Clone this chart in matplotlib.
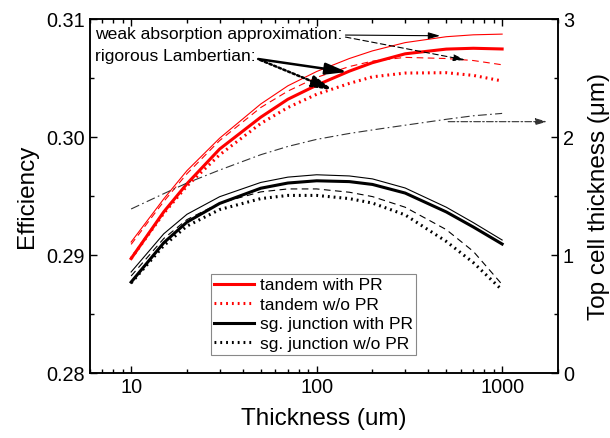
import numpy as np
import matplotlib
matplotlib.use('Agg')
import matplotlib.pyplot as plt
from matplotlib.ticker import FixedLocator, NullFormatter, FormatStrFormatter

plt.rcParams['font.family'] = ['Liberation Sans', 'DejaVu Sans']

# Thickness (um)
thick = [10, 15, 20, 30, 50, 70, 100, 150, 200, 300, 500, 700, 1000]

# tandem, rigorous Lambertian
tan_pr     = [0.2897, 0.29366, 0.29604, 0.29898, 0.30168, 0.30320, 0.30439, 0.30558, 0.30630, 0.30705, 0.30745, 0.30752, 0.30746]
tan_nopr   = [0.2897, 0.29354, 0.29585, 0.29849, 0.30115, 0.30250, 0.30362, 0.30454, 0.30510, 0.30542, 0.30545, 0.30522, 0.30475]
# tandem, weak absorption approximation
tan_pr_w   = [0.2911, 0.29476, 0.29715, 0.29990, 0.30280, 0.30434, 0.30555, 0.30665, 0.30730, 0.30800, 0.30850, 0.30866, 0.30872]
tan_nopr_w = [0.2909, 0.29454, 0.29689, 0.29970, 0.30250, 0.30389, 0.30505, 0.30597, 0.30643, 0.30675, 0.30665, 0.30648, 0.30612]
# single junction, rigorous Lambertian
sg_pr      = [0.2877, 0.29104, 0.29279, 0.29437, 0.29566, 0.29610, 0.29629, 0.29622, 0.29598, 0.29525, 0.29365, 0.29237, 0.29093]
sg_nopr    = [0.28763, 0.29080, 0.29245, 0.29385, 0.29478, 0.29505, 0.29505, 0.29478, 0.29440, 0.29340, 0.29115, 0.28935, 0.28703]
# single junction, weak absorption approximation
sg_pr_w    = [0.28856, 0.29180, 0.29345, 0.29494, 0.29615, 0.29660, 0.29680, 0.29670, 0.29645, 0.29568, 0.29405, 0.29274, 0.29127]
sg_nopr_w  = [0.28822, 0.29140, 0.29300, 0.29440, 0.29535, 0.29560, 0.29560, 0.29532, 0.29495, 0.29405, 0.29215, 0.29030, 0.28750]
# optimal top cell thickness (um), right axis
top_cell   = [1.39, 1.52, 1.61, 1.72, 1.85, 1.92, 1.98, 2.03, 2.06, 2.10, 2.15, 2.18, 2.20]

red = '#ff0000'
dot = (0, (0.6, 1.3))
dash = (0, (6, 4))

dpi = 100
fig = plt.figure(figsize=(610/dpi, 438/dpi), dpi=dpi)
ax = fig.add_axes([0.1475, 0.1484, 0.7672, 0.8082])
ax2 = ax.twinx()

ax.plot(thick, tan_pr_w, color=red, lw=0.8)
ax.plot(thick, tan_nopr_w, color=red, lw=0.8, ls=dash)
ax.plot(thick, sg_pr_w, color='black', lw=0.8)
ax.plot(thick, sg_nopr_w, color='black', lw=0.8, ls=dash)
l1, = ax.plot(thick, tan_pr, color=red, lw=2.2)
l2, = ax.plot(thick, tan_nopr, color=red, lw=2.2, ls=dot)
l3, = ax.plot(thick, sg_pr, color='black', lw=2.2)
l4, = ax.plot(thick, sg_nopr, color='black', lw=2.2, ls=dot)

ax2.plot(thick, top_cell, color='#333333', lw=0.8, ls=(0, (8, 3, 1.5, 3)))

ax.set_xscale('log')
ax.set_xlim(6, 2000)
ax.set_ylim(0.28, 0.31)
ax2.set_ylim(0, 3)

ax.set_yticks([0.28, 0.29, 0.30, 0.31])
ax.yaxis.set_minor_locator(FixedLocator([0.285, 0.295, 0.305]))
ax.yaxis.set_major_formatter(FormatStrFormatter('%.2f'))
ax2.set_yticks([0, 1, 2, 3])
ax2.yaxis.set_minor_locator(FixedLocator([0.5, 1.5, 2.5]))
ax.set_xticks([10, 100, 1000])
ax.set_xticklabels(['10', '100', '1000'])
ax.xaxis.set_minor_formatter(NullFormatter())

for a in (ax, ax2):
    for s in a.spines.values():
        s.set_linewidth(1.1)
    a.tick_params(which='both', direction='in', labelsize=14.3, width=1.0)
    a.tick_params(which='major', length=5)
    a.tick_params(which='minor', length=3)
ax.tick_params(which='both', top=True)

ax.set_xlabel('Thickness (um)', fontsize=17.5, labelpad=8)
ax.set_ylabel('Efficiency', fontsize=17.5, labelpad=6)
ax2.set_ylabel('Top cell thickness (\u03bcm)', fontsize=17.5, labelpad=10)

# annotations
ax.text(0.011, 0.955, 'weak absorption approximation:', transform=ax.transAxes,
        fontsize=12.6, va='center', ha='left')
ax.text(0.011, 0.893, 'rigorous Lambertian:', transform=ax.transAxes,
        fontsize=12.6, va='center', ha='left')

thin_head = '-|>,head_length=0.7,head_width=0.2'
thick_head = '-|>,head_length=1.3,head_width=0.35'
ax.annotate('', xy=(463, 0.30858), xytext=(143, 0.30864),
            arrowprops=dict(arrowstyle=thin_head, color='black', lw=0.8,
                            shrinkA=0, shrinkB=0, mutation_scale=10))
ax.annotate('', xy=(631, 0.30653), xytext=(143, 0.30847),
            arrowprops=dict(arrowstyle=thin_head, color='black', lw=0.8, ls=(0, (5, 3)),
                            shrinkA=0, shrinkB=0, mutation_scale=10))
ax.annotate('', xy=(146, 0.30551), xytext=(48.4, 0.30661),
            arrowprops=dict(arrowstyle=thick_head, color='black', lw=1.8,
                            shrinkA=0, shrinkB=0, mutation_scale=10))
ax.annotate('', xy=(122.7, 0.30398), xytext=(49.6, 0.30653),
            arrowprops=dict(arrowstyle=thick_head, color='black', lw=1.8, ls=(0, (1, 1)),
                            shrinkA=0, shrinkB=0, mutation_scale=10))
ax2.annotate('', xy=(1750, 2.13), xytext=(512, 2.13),
             arrowprops=dict(arrowstyle=thin_head, color='#333333', lw=0.8,
                             ls=(0, (6, 2, 1.5, 2)),
                             shrinkA=0, shrinkB=0, mutation_scale=10))

leg = ax.legend([l1, l2, l3, l4],
                ['tandem with PR', 'tandem w/o PR', 'sg. junction with PR', 'sg. junction w/o PR'],
                loc='lower left', bbox_to_anchor=(0.2585, 0.0508), borderaxespad=0,
                fontsize=12.5, handlelength=2.3, handletextpad=0.3, labelspacing=0.25,
                borderpad=0.2, fancybox=False, framealpha=1)
leg.get_frame().set_edgecolor('#888888')
leg.get_frame().set_linewidth(0.8)

fig.savefig('out.png', dpi=dpi)
